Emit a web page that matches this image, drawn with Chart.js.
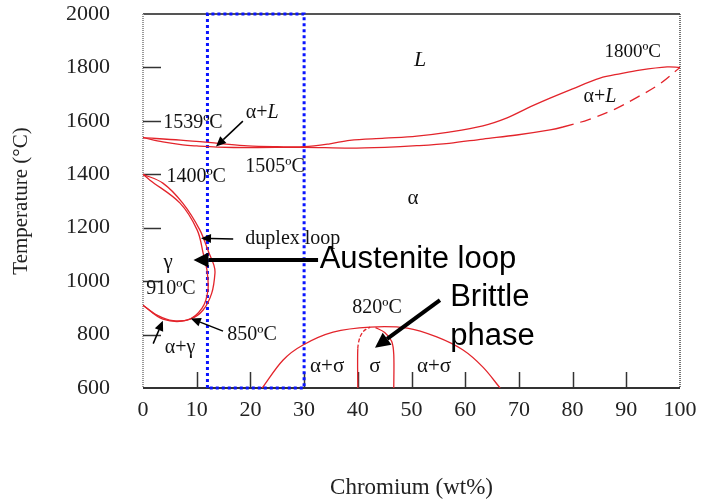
<!DOCTYPE html>
<html>
<head>
<meta charset="utf-8">
<script src="https://cdn.jsdelivr.net/npm/chart.js@4.4.1/dist/chart.umd.min.js"></script>
<style>
  html, body { margin: 0; padding: 0; background: #fff; }
  #wrap { width: 701px; height: 504px; }
</style>
</head>
<body>
<div id="wrap"><canvas id="phaseChart"></canvas></div>
<script>
// tick labels
var crTicks = [0, 10, 20, 30, 40, 50, 60, 70, 80, 90, 100];
var tempTicks = [600, 800, 1000, 1200, 1400, 1600, 1800, 2000];

// liquidus (upper line of the alpha+L lens)
var liquidusCr = [0, 7, 14, 19.5, 25, 30, 34.8, 38.5, 45, 51, 57, 63.3, 67.8, 71.5, 75.8, 80, 85.1, 89, 92.5, 97.6, 100];
var liquidusT  = [1537, 1528, 1516, 1506, 1503, 1503, 1514, 1527, 1535, 1543, 1558, 1581, 1611, 1647, 1685, 1720, 1760, 1777, 1790, 1802, 1800];

// solidus (lower line, dashed above ~78 % Cr)
var solidusCr = [0, 3.7, 7.4, 10, 13.8, 20, 29.8, 38.5, 45, 51, 57, 63.3, 69.6, 75.8, 78.2, 83, 88, 92, 96, 100];
var solidusT  = [1537, 1521, 1510, 1506, 1502, 1500, 1501, 1498, 1501, 1507, 1516, 1532, 1547, 1566, 1577, 1605, 1645, 1688, 1735, 1800];

// gamma loop, outer and inner boundary
var loopOuterCr = [0, 3.7, 7.4, 10.6, 12.2, 13.2, 13.4, 12.8, 11.2, 8.8, 5.6, 2.6, 0];
var loopOuterT  = [1400, 1367, 1292, 1191, 1110, 1060, 1030, 955, 892, 858, 852, 873, 910];
var loopInnerCr = [0, 1.3, 6.9, 10.1, 11.2, 11.9, 12.1, 11.0, 8.2, 3.7, 0];
var loopInnerT  = [1400, 1378, 1292, 1191, 1105, 1042, 967, 899, 854, 858, 910];

// sigma dome and sigma single-phase field
var domeCr = [22.2, 26.1, 29.8, 35.4, 42.3, 49.2, 54.7, 59.6, 63.3, 66.5];
var domeT  = [600, 705, 761, 809, 828, 824, 791, 742, 678, 600];
var sigmaLeftCr  = [40, 40, 40.4, 41.2, 42.3];
var sigmaLeftT   = [600, 748, 790, 815, 828];
var sigmaRightCr = [46.7, 46.7, 46.3, 45, 43.3];
var sigmaRightT  = [600, 725, 775, 808, 826];

// highlighted composition window
var windowCr = [12, 12, 30, 30, 12];
var windowT  = [600, 2000, 2000, 600, 600];

function pts(xs, ys) {
    return xs.map(function (x, i) { return { x: x, y: ys[i] }; });
}

var RED = '#e3242b';
var SERIF = '"Liberation Serif", "Times New Roman", serif';
var SANS = '"Liberation Sans", Arial, sans-serif';

function redLine(data, extra) {
    var ds = {
        data: data, showLine: true, borderColor: RED, borderWidth: 1.3,
        pointRadius: 0, tension: 0.35, fill: false
    };
    return Object.assign(ds, extra || {});
}

// annotation texts, placed in data units
var notes = [
    { parts: [['L', true]], cr: 51.6, t: 1828, size: 22 },
    { parts: [['1800ºC', false]], cr: 91.2, t: 1858, size: 19 },
    { parts: [['α+', false], ['L', true]], cr: 85.1, t: 1689, size: 20 },
    { parts: [['1539ºC', false]], cr: 9.3, t: 1592, size: 20 },
    { parts: [['α+', false], ['L', true]], cr: 22.2, t: 1629, size: 20 },
    { parts: [['1505ºC', false]], cr: 24.6, t: 1427, size: 20 },
    { parts: [['1400ºC', false]], cr: 9.9, t: 1390, size: 20 },
    { parts: [['α', false]], cr: 50.3, t: 1311, size: 21 },
    { parts: [['duplex loop', false]], cr: 27.9, t: 1158, size: 20 },
    { parts: [['γ', false]], cr: 4.7, t: 1071, size: 21 },
    { parts: [['910ºC', false]], cr: 5.2, t: 970, size: 20 },
    { parts: [['850ºC', false]], cr: 20.3, t: 798, size: 20 },
    { parts: [['α+γ', false]], cr: 6.9, t: 750, size: 20 },
    { parts: [['820ºC', false]], cr: 43.6, t: 899, size: 20 },
    { parts: [['α+σ', false]], cr: 34.3, t: 682, size: 21 },
    { parts: [['σ', false]], cr: 43.2, t: 682, size: 21 },
    { parts: [['α+σ', false]], cr: 54.2, t: 682, size: 21 }
];
var bigNotes = [
    { text: 'Austenite loop', cr: 32.9, t: 1081 },
    { text: 'Brittle', cr: 57.2, t: 940 },
    { text: 'phase', cr: 57.2, t: 792 }
];
// arrows: from (cr1,t1) to tip (cr2,t2)
var arrows = [
    { from: [18.6, 1599], to: [13.6, 1504], w: 1.5 },
    { from: [16.8, 1158], to: [10.8, 1161], w: 1.5 },
    { from: [14.9, 813], to: [8.9, 860], w: 1.5 },
    { from: [1.9, 766], to: [3.7, 852], w: 1.5 },
    { from: [32.6, 1079], to: [9.4, 1079], w: 4 },
    { from: [55.3, 929], to: [43.2, 751], w: 4 }
];

function drawArrow(ctx, x1, y1, x2, y2, w) {
    var ang = Math.atan2(y2 - y1, x2 - x1);
    var hl = w > 2 ? 15 : 10, hw = w > 2 ? 7.5 : 4.5;
    var bx = x2 - hl * Math.cos(ang), by = y2 - hl * Math.sin(ang);
    ctx.strokeStyle = '#000'; ctx.fillStyle = '#000'; ctx.lineWidth = w;
    ctx.beginPath(); ctx.moveTo(x1, y1); ctx.lineTo(bx, by); ctx.stroke();
    ctx.beginPath();
    ctx.moveTo(x2, y2);
    ctx.lineTo(bx + hw * Math.sin(ang), by - hw * Math.cos(ang));
    ctx.lineTo(bx - hw * Math.sin(ang), by + hw * Math.cos(ang));
    ctx.closePath(); ctx.fill();
}

var framePlugin = {
    id: 'frame',
    beforeDatasetsDraw: function (chart) {
        var ctx = chart.ctx, a = chart.chartArea;
        var xs = chart.scales.x, ys = chart.scales.y;
        ctx.save();
        ctx.strokeStyle = '#333'; ctx.lineWidth = 1.5;
        tempTicks.slice(1, -1).forEach(function (t) {
            var y = Math.round(ys.getPixelForValue(t)) + 0.5;
            ctx.beginPath(); ctx.moveTo(a.left, y); ctx.lineTo(a.left + 18, y); ctx.stroke();
        });
        crTicks.slice(1, -1).forEach(function (c) {
            var x = Math.round(xs.getPixelForValue(c)) + 0.5;
            ctx.beginPath(); ctx.moveTo(x, a.bottom); ctx.lineTo(x, a.bottom - 16); ctx.stroke();
        });
        // top and bottom solid, sides dotted
        ctx.lineWidth = 2; ctx.strokeStyle = '#555';
        ctx.beginPath(); ctx.moveTo(a.left, a.top); ctx.lineTo(a.right, a.top); ctx.stroke();
        ctx.strokeStyle = '#333';
        ctx.beginPath(); ctx.moveTo(a.left, a.bottom); ctx.lineTo(a.right, a.bottom); ctx.stroke();
        ctx.setLineDash([1, 1]);
        ctx.strokeStyle = '#999';
        ctx.beginPath(); ctx.moveTo(a.left, a.top); ctx.lineTo(a.left, a.bottom); ctx.stroke();
        ctx.strokeStyle = '#444'; ctx.lineWidth = 1.5;
        ctx.beginPath(); ctx.moveTo(a.right, a.top); ctx.lineTo(a.right, a.bottom); ctx.stroke();
        ctx.restore();
    },
    afterDatasetsDraw: function (chart) {
        var ctx = chart.ctx;
        var xs = chart.scales.x, ys = chart.scales.y;
        ctx.save();
        ctx.textBaseline = 'middle';
        ctx.fillStyle = '#111';
        notes.forEach(function (n) {
            var widths = n.parts.map(function (p) {
                ctx.font = (p[1] ? 'italic ' : '') + n.size + 'px ' + SERIF;
                return ctx.measureText(p[0]).width;
            });
            var total = widths.reduce(function (s, w) { return s + w; }, 0);
            var x = xs.getPixelForValue(n.cr) - total / 2, y = ys.getPixelForValue(n.t);
            ctx.textAlign = 'left';
            n.parts.forEach(function (p, i) {
                ctx.font = (p[1] ? 'italic ' : '') + n.size + 'px ' + SERIF;
                ctx.fillText(p[0], x, y);
                x += widths[i];
            });
        });
        ctx.font = '31px ' + SANS;
        ctx.fillStyle = '#000';
        ctx.textAlign = 'left';
        bigNotes.forEach(function (n) {
            ctx.fillText(n.text, xs.getPixelForValue(n.cr), ys.getPixelForValue(n.t));
        });
        arrows.forEach(function (ar) {
            drawArrow(ctx,
                xs.getPixelForValue(ar.from[0]), ys.getPixelForValue(ar.from[1]),
                xs.getPixelForValue(ar.to[0]), ys.getPixelForValue(ar.to[1]), ar.w);
        });
        ctx.restore();
    }
};

function plainLabel(v) { return String(v); }

var ctx1 = document.getElementById('phaseChart').getContext('2d');
var phaseChart = new Chart(ctx1, {
    type: 'scatter',
    data: {
        datasets: [
            redLine(pts(liquidusCr, liquidusT)),
            redLine(pts(solidusCr, solidusT), {
                segment: { borderDash: function (c) { return c.p0.parsed.x >= 78 ? [11, 7] : undefined; } }
            }),
            redLine(pts(loopOuterCr, loopOuterT)),
            redLine(pts(loopInnerCr, loopInnerT)),
            redLine(pts(domeCr, domeT)),
            redLine(pts(sigmaLeftCr, sigmaLeftT), {
                tension: 0.3,
                segment: { borderDash: function (c) { return c.p0.parsed.y >= 745 ? [4, 2] : undefined; } }
            }),
            redLine(pts(sigmaRightCr, sigmaRightT), { tension: 0.3 }),
            {
                data: pts(windowCr, windowT), showLine: true, borderColor: '#0a14ff',
                borderWidth: 3, borderDash: [3, 3], pointRadius: 0, tension: 0,
                fill: false, clip: 4
            }
        ]
    },
    options: {
        responsive: true,
        maintainAspectRatio: false,
        animation: false,
        layout: { padding: { left: 0, top: 14, right: 21, bottom: 0 } },
        plugins: { legend: { display: false }, tooltip: { enabled: false } },
        scales: {
            x: {
                type: 'linear', min: 0, max: 100,
                afterBuildTicks: function (s) { s.ticks = crTicks.map(function (v) { return { value: v }; }); },
                afterFit: function (s) { s.height = 116; s.paddingLeft = 0; s.paddingRight = 0; },
                grid: { display: false, drawTicks: false },
                border: { display: false },
                ticks: { padding: 9, color: '#222', font: { family: SERIF, size: 22 }, maxRotation: 0, callback: plainLabel },
                title: {
                    display: true, text: 'Chromium (wt%)', color: '#222',
                    font: { family: SERIF, size: 23 }, padding: { top: 0, bottom: 2 }
                }
            },
            y: {
                type: 'linear', min: 600, max: 2000,
                afterBuildTicks: function (s) { s.ticks = tempTicks.map(function (v) { return { value: v }; }); },
                afterFit: function (s) { s.width = 143; s.paddingTop = 0; s.paddingBottom = 0; },
                grid: { display: false, drawTicks: false },
                border: { display: false },
                ticks: { padding: 33, color: '#222', font: { family: SERIF, size: 22 }, callback: plainLabel },
                title: {
                    display: true, text: 'Temperature (°C)', color: '#222',
                    font: { family: SERIF, size: 21 }, padding: { top: 9, bottom: 0 }
                }
            }
        }
    },
    plugins: [framePlugin]
});
</script>
</body>
</html>
